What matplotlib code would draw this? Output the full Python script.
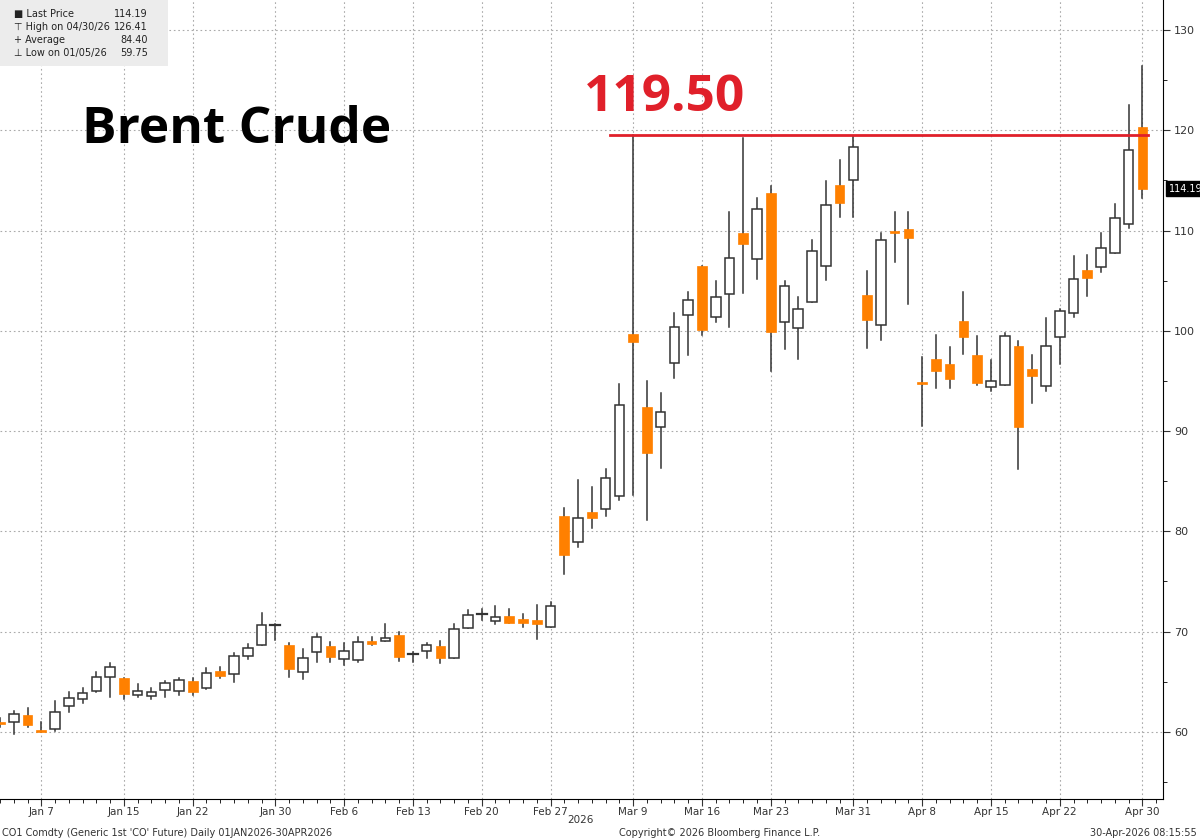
import matplotlib
matplotlib.use("Agg")
import matplotlib.pyplot as plt
from matplotlib.patches import Rectangle
from matplotlib.ticker import MultipleLocator, FixedLocator

opens = [60.9,61.0,61.7,60.1,60.3,62.6,63.3,64.1,65.5,65.4,63.7,63.6,64.2,64.1,65.1,64.4,66.1,65.8,67.6,68.7,70.7,
         68.7,66.0,67.95,68.6,67.25,67.2,69.05,69.1,69.7,67.75,68.1,68.6,67.35,70.33,71.75,71.1,71.56,71.3,71.16,70.5,
         81.5,78.9,81.9,82.2,83.5,99.7,92.4,90.4,96.8,101.6,106.5,101.4,103.7,109.8,107.2,113.75,100.9,100.3,102.9,106.5,
         114.5,115.05,103.6,100.6,109.9,110.2,94.9,97.15,96.65,101.0,97.55,94.4,94.6,98.5,96.2,94.5,99.4,101.8,106.05,106.4,
         107.8,110.7,120.33]
closes = [60.8,61.8,60.7,60.0,62.0,63.35,63.9,65.5,66.5,63.8,64.1,63.97,64.9,65.2,64.0,65.9,65.6,67.6,68.4,70.7,70.75,
          66.3,67.35,69.5,67.5,68.1,69.0,68.8,69.4,67.5,67.77,68.7,67.4,70.3,71.66,71.77,71.5,70.83,70.9,70.73,72.55,
          77.6,81.3,81.3,85.35,92.6,98.9,87.8,91.9,100.4,103.1,100.1,103.4,107.3,108.7,112.2,99.9,104.45,102.2,108.0,112.6,
          112.8,118.3,101.1,109.1,109.8,109.3,94.7,95.96,95.2,99.4,94.75,94.97,99.47,90.4,95.5,98.5,102.0,105.2,105.3,108.25,
          111.3,118.0,114.19]
highs = [61.4,62.05,62.4,60.96,63.05,63.97,64.4,66.0,66.85,65.4,64.8,64.4,65.1,65.4,65.4,66.4,66.5,67.85,68.8,71.9,70.8,
         68.85,68.3,69.8,69.0,68.9,69.5,69.5,70.8,70.0,68.0,68.85,69.1,70.76,72.15,72.25,72.6,72.25,71.75,72.65,72.98,
         82.35,85.1,84.45,86.2,94.65,119.5,95.0,93.75,101.8,103.9,106.5,104.95,111.9,119.2,113.2,114.4,105.0,103.35,109.1,114.9,
         117.0,119.4,105.95,109.8,111.9,111.85,97.4,99.6,98.4,103.9,99.5,97.05,99.8,99.0,97.55,101.25,102.2,107.5,107.55,109.8,
         112.7,122.55,126.41]
lows = [60.5,59.75,60.5,59.97,60.07,61.95,62.9,64.0,63.5,63.3,63.5,63.3,63.5,63.7,63.7,64.3,65.4,65.0,67.25,68.7,69.2,
        65.5,65.3,67.0,67.0,66.7,67.0,68.7,69.1,67.1,67.0,67.35,66.9,67.35,70.33,71.16,70.8,70.83,70.5,69.24,70.5,
        75.7,78.4,80.3,81.5,83.1,83.6,81.1,86.3,95.25,97.6,99.6,100.9,100.4,103.8,105.15,96.0,98.2,97.2,102.9,105.1,
        111.4,111.4,98.3,99.1,106.9,102.7,90.5,94.3,94.3,97.65,94.6,93.97,94.6,86.2,92.8,94.0,96.65,101.35,103.45,105.9,
        107.8,110.3,113.2]

tick_idx = [3, 9, 14, 20, 25, 30, 35, 40, 46, 51, 56, 62, 67, 72, 77, 83]
tick_labels = ["Jan 7", "Jan 15", "Jan 22", "Jan 30", "Feb 6", "Feb 13", "Feb 20", "Feb 27",
               "Mar 9", "Mar 16", "Mar 23", "Mar 31", "Apr 8", "Apr 15", "Apr 22", "Apr 30"]
level = 119.50
level_start = 44.3
last_price = 114.19

ORANGE = "#FF8000"
EDGE = "#333333"
YMIN, YMAX = 53.3, 133.0

fig = plt.figure(figsize=(12, 8.4), dpi=100)
ax = fig.add_axes([0.0, 1 - 799/840, 1163/1200, 799/840])
ax.set_xlim(0, 84.5)
ax.set_ylim(YMIN, YMAX)

w = 0.7
for i, (o, c, h, l) in enumerate(zip(opens, closes, highs, lows)):
    ax.plot([i, i], [l, h], color=EDGE, lw=1.1, zorder=2)
    lo, hi = min(o, c), max(o, c)
    height = max(hi - lo, 0.15)
    if abs(c - o) < 0.06:
        ax.plot([i - w/2, i + w/2], [o, o], color=EDGE, lw=1.6, zorder=3)
    elif c > o:
        ax.add_patch(Rectangle((i - w/2, lo), w, height, facecolor="white", edgecolor=EDGE, lw=1.1, zorder=3))
    else:
        ax.add_patch(Rectangle((i - w/2, lo), w, height, facecolor=ORANGE, edgecolor=ORANGE, lw=0.5, zorder=3))

ax.plot([level_start, 83.4], [level, level], color="#E0202A", lw=2, zorder=4)

ax.yaxis.tick_right()
ax.set_yticks([60, 70, 80, 90, 100, 110, 120, 130])
ax.set_yticklabels(["60", "70", "80", "90", "100", "110", "120", "130"])
ax.yaxis.set_minor_locator(MultipleLocator(5))
ax.tick_params(axis="y", which="major", length=5, labelsize=8, colors="#333333", pad=3)
ax.tick_params(axis="y", which="minor", length=3)
ax.xaxis.set_major_locator(FixedLocator(tick_idx))
ax.set_xticklabels(tick_labels)
ax.xaxis.set_minor_locator(FixedLocator(list(range(85))))
ax.tick_params(axis="x", which="major", length=5, labelsize=7.5, colors="#333333", pad=1)
ax.tick_params(axis="x", which="minor", length=3)
ax.grid(True, which="major", color="#aaaaaa", ls=(0, (1.5, 2.5)), lw=0.8)
ax.set_axisbelow(True)
for s in ["left", "top"]:
    ax.spines[s].set_visible(False)

ax.text(1.005, (last_price - YMIN) / (YMAX - YMIN), f"{last_price:.2f}", transform=ax.transAxes,
        ha="left", va="center", fontsize=7, color="white",
        bbox=dict(boxstyle="square,pad=0.25", fc="black", ec="black"), clip_on=False)

fig.text(82/1200, 1 - 130/840, "Brent Crude", fontsize=37, fontweight="bold", family="Open Sans",
         ha="left", va="center", color="black")
fig.text(584/1200, 1 - 98/840, f"{level:.2f}", fontsize=37, fontweight="bold", family="Open Sans",
         ha="left", va="center", color="#E0202A")

fig.patches.append(Rectangle((0, 1 - 66/840), 168/1200, 66/840, transform=fig.transFigure,
                             facecolor="#ECECEC", edgecolor="none", zorder=5))
legend_rows = [("■ Last Price", "114.19"), ("⊤ High on 04/30/26", "126.41"),
               ("+ Average", "84.40"), ("⊥ Low on 01/05/26", "59.75")]
for k, (lab, val) in enumerate(legend_rows):
    y = 1 - (14 + k*13)/840
    fig.text(14/1200, y, lab, fontsize=7, ha="left", va="center", color="#222222", zorder=6)
    fig.text(148/1200, y, val, fontsize=7, ha="right", va="center", color="#222222", zorder=6)

fig.text(580/1200, 1 - 820/840, "2026", fontsize=7.5, ha="center", va="center", color="#333333")
fig.text(2/1200, 1 - 833/840, "CO1 Comdty (Generic 1st 'CO' Future) Daily 01JAN2026-30APR2026",
         fontsize=7, ha="left", va="center", color="#333333")
fig.text(720/1200, 1 - 833/840, "Copyright© 2026 Bloomberg Finance L.P.", fontsize=7,
         ha="center", va="center", color="#333333")
fig.text(1197/1200, 1 - 833/840, "30-Apr-2026 08:15:55", fontsize=7, ha="right", va="center", color="#333333")

fig.savefig("out.png", dpi=100)
